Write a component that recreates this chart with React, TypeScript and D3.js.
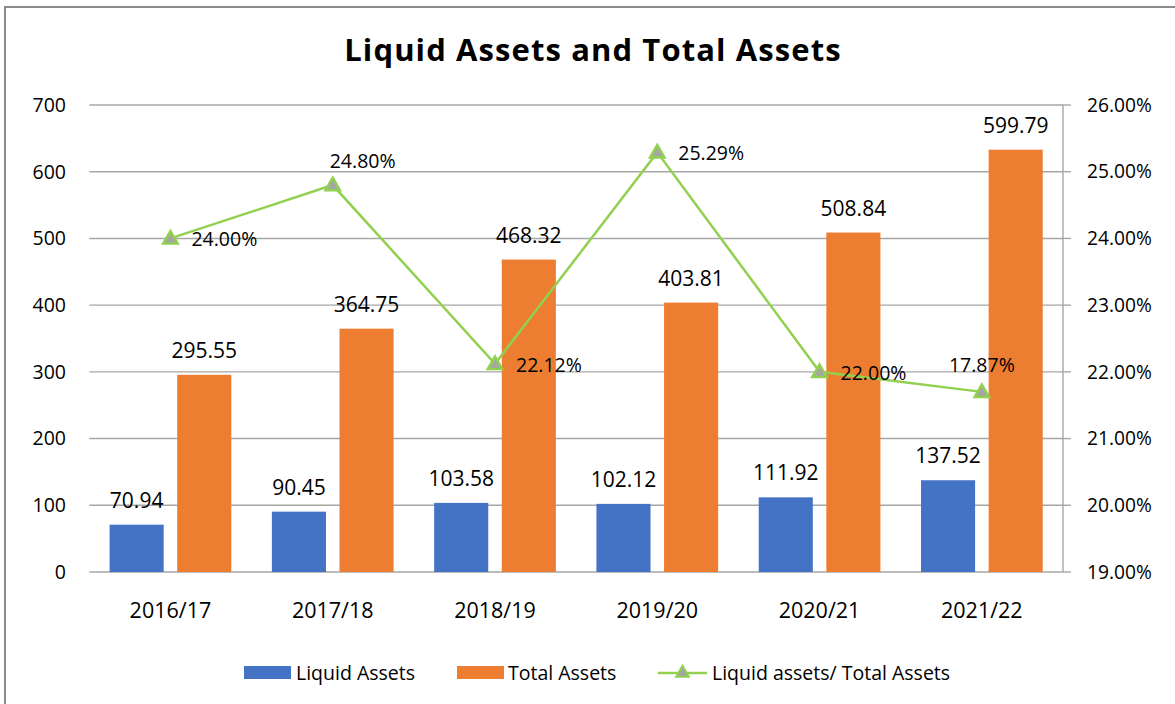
import React from "react";
import * as d3 from "d3";

const categories = ["2016/17", "2017/18", "2018/19", "2019/20", "2020/21", "2021/22"];
const liquidAssets = [70.94, 90.45, 103.58, 102.12, 111.92, 137.52];
// bar heights as drawn in the reference (last bar is drawn taller than its label)
const totalAssetsDrawn = [295.55, 364.75, 468.32, 403.81, 508.84, 633];
const totalAssetsLabels = ["295.55", "364.75", "468.32", "403.81", "508.84", "599.79"];
// ratio points as drawn (last point is drawn at ~21.7% though labelled 17.87%)
const ratioDrawn = [24.0, 24.8, 22.12, 25.29, 22.0, 21.7];
const ratioLabels = ["24.00%", "24.80%", "22.12%", "25.29%", "22.00%", "17.87%"];
const leftTicks = [0, 100, 200, 300, 400, 500, 600, 700];
const rightTicks = [19, 20, 21, 22, 23, 24, 25, 26];
const ratioLabelPlacement = ["right", "above", "right", "right", "right", "aboveCenter"];

const W = 1175;
const H = 704;
const FONT = "'Open Sans', 'Noto Sans', sans-serif";
const BLUE = "#4472C4";
const ORANGE = "#ED7D31";
const GREEN = "#92D050";
const GRID = "#A6A6A6";

export default function App() {
  const left = 89.3;
  const right = 1063;
  const top = 105;
  const bottom = 572;

  const x = d3.scaleBand<string>().domain(categories).range([left, right]).paddingInner(0.25).paddingOuter(0.125);
  const xs = d3.scaleBand<string>().domain(["liquid", "total"]).range([0, x.bandwidth()]).paddingInner(0.2);
  const yL = d3.scaleLinear().domain([0, 700]).range([bottom, top]);
  const yR = d3.scaleLinear().domain([19, 26]).range([bottom, top]);
  const cx = (c: string) => (x(c) as number) + x.bandwidth() / 2;

  const line = d3
    .line<number>()
    .x((_, i) => cx(categories[i]))
    .y((d) => yR(d));

  const tri = d3.symbol().type(d3.symbolTriangle).size(90)();

  return (
    <svg width={W} height={H} style={{ position: "absolute", left: 0, top: 0, background: "#fff" }} fontFamily={FONT}>
      <rect x={0} y={0} width={W} height={H} fill="#fff" />
      <rect x={5} y={7} width={W + 20} height={H + 20} fill="none" stroke="#8C8C8C" strokeWidth={2} />
      <text x={593} y={61} textAnchor="middle" fontSize={31} fontWeight={700} letterSpacing={1.1} fill="#000">
        Liquid Assets and Total Assets
      </text>

      {leftTicks.map((t) => (
        <g key={"g" + t}>
          <line x1={left} x2={right} y1={yL(t)} y2={yL(t)} stroke={GRID} strokeWidth={1.4} />
          <text x={66} y={yL(t)} dy="0.35em" textAnchor="end" fontSize={19.5} fill="#000">
            {t}
          </text>
        </g>
      ))}
      <line x1={right} x2={right} y1={top} y2={bottom} stroke={GRID} strokeWidth={1.4} />
      {rightTicks.map((t) => (
        <g key={"r" + t}>
          <line x1={right} x2={right + 8} y1={yR(t)} y2={yR(t)} stroke={GRID} strokeWidth={1.4} />
          <text x={1087} y={yR(t)} dy="0.35em" textAnchor="start" fontSize={19.2} fill="#000">
            {t.toFixed(2)}%
          </text>
        </g>
      ))}

      {categories.map((c, i) => {
        const x0 = x(c) as number;
        const lx = x0 + (xs("liquid") as number);
        const tx = x0 + (xs("total") as number);
        const bw = xs.bandwidth();
        return (
          <g key={c}>
            <rect x={lx} y={yL(liquidAssets[i])} width={bw} height={bottom - yL(liquidAssets[i])} fill={BLUE} />
            <rect x={tx} y={yL(totalAssetsDrawn[i])} width={bw} height={bottom - yL(totalAssetsDrawn[i])} fill={ORANGE} />
            <text x={lx + bw / 2} y={yL(liquidAssets[i]) - 17} textAnchor="middle" fontSize={21} fill="#000">
              {liquidAssets[i].toFixed(2)}
            </text>
            <text x={tx + bw / 2} y={yL(totalAssetsDrawn[i]) - 17} textAnchor="middle" fontSize={21} fill="#000">
              {totalAssetsLabels[i]}
            </text>
            <text x={cx(c)} y={610} dy="0.35em" textAnchor="middle" fontSize={21.5} fill="#000">
              {c}
            </text>
          </g>
        );
      })}

      <path d={line(ratioDrawn) || ""} fill="none" stroke={GREEN} strokeWidth={2.5} />
      {ratioDrawn.map((v, i) => (
        <path
          key={"m" + i}
          d={tri || ""}
          transform={`translate(${cx(categories[i])},${yR(v) + 1})`}
          fill="#A5A5A5"
          stroke={GREEN}
          strokeWidth={2.5}
        />
      ))}
      {ratioDrawn.map((v, i) => {
        const px = cx(categories[i]);
        const py = yR(v);
        const p = ratioLabelPlacement[i];
        let tx = px + 21;
        let ty = py + 1;
        let anchor: "start" | "middle" = "start";
        if (p === "above") {
          tx = px - 3;
          ty = py - 24;
        } else if (p === "aboveCenter") {
          tx = px;
          ty = py - 27;
          anchor = "middle";
        }
        return (
          <text key={"l" + i} x={tx} y={ty} dy="0.35em" textAnchor={anchor} fontSize={19.5} fill="#000">
            {ratioLabels[i]}
          </text>
        );
      })}

      {/* legend */}
      <g fontSize={19.5} fill="#000">
        <rect x={244} y={666} width={47} height={13} fill={BLUE} />
        <text x={296} y={673} dy="0.35em">Liquid Assets</text>
        <rect x={457} y={666} width={47} height={13} fill={ORANGE} />
        <text x={508} y={673} dy="0.35em">Total Assets</text>
        <line x1={658} x2={707} y1={673} y2={673} stroke={GREEN} strokeWidth={2.5} />
        <path d={d3.symbol().type(d3.symbolTriangle).size(70)() || ""} transform="translate(682.5,673)" fill="#A5A5A5" stroke={GREEN} strokeWidth={2} />
        <text x={712} y={673} dy="0.35em">Liquid assets/ Total Assets</text>
      </g>
    </svg>
  );
}
